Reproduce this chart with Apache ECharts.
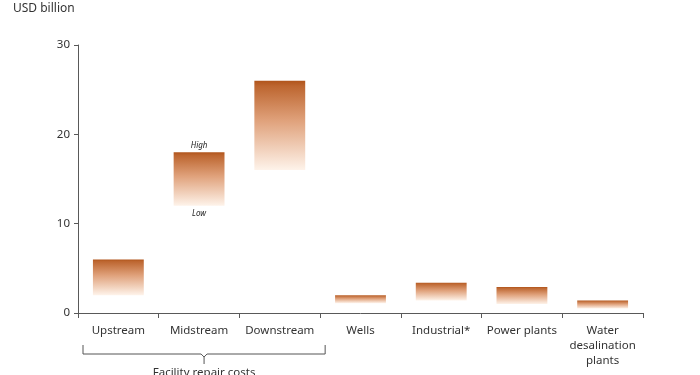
<!DOCTYPE html>
<html><head><meta charset="utf-8">
<script src="https://cdn.jsdelivr.net/npm/echarts@6/dist/echarts.min.js"></script>
<style>html,body{margin:0;padding:0;background:#fff}#c{width:700px;height:375px}</style>
</head><body><div id="c"></div>
<script>
const categories = ['Upstream','Midstream','Downstream','Wells','Industrial*','Power plants','Water\ndesalination\nplants'];
const lowValues  = [2, 12, 16, 1.1, 1.4, 1.0, 0.5];
const highValues = [6, 18, 26, 2.0, 3.4, 2.9, 1.4];
const yTicks = [0, 10, 20, 30];
const rangeLabels = {1: {high: 'High', low: 'Low'}};
const braceLabel = 'Facility repair costs';
const braceFrom = 0, braceTo = 2;

const FONT = 'Noto Sans';
const chart = echarts.init(document.getElementById('c'));
const grad = new echarts.graphic.LinearGradient(0,0,0,1,[
  {offset:0, color:'#b0541b'},
  {offset:0.06, color:'#bd6630'},
  {offset:0.45, color:'#e0a27c'},
  {offset:1, color:'#fef3ea'}
]);
chart.setOption({
  animation:false,
  grid:{left:78, right:57, top:45, bottom:62},
  xAxis:{type:'category', data:categories,
    axisLine:{lineStyle:{color:'#595959', width:1}},
    axisTick:{show:true, length:5, lineStyle:{color:'#595959'}},
    axisLabel:{color:'#333', fontFamily:FONT, fontSize:11.5, margin:10, lineHeight:15, interval:0}},
  yAxis:{type:'value', min:yTicks[0], max:yTicks[yTicks.length-1], interval:10,
    splitLine:{show:false},
    axisLine:{show:true, lineStyle:{color:'#595959'}},
    axisTick:{show:true, length:4, lineStyle:{color:'#595959'}},
    axisLabel:{color:'#333', fontFamily:FONT, fontSize:11.5, margin:8}},
  series:[
    {type:'bar', stack:'r', barWidth:'63%', silent:true,
     itemStyle:{color:'rgba(0,0,0,0)'},
     data: lowValues.map((v,i)=> rangeLabels[i] ? {value:v, label:{show:true, position:'insideTop', distance:4, formatter:rangeLabels[i].low, fontStyle:'italic', fontSize:8, color:'#222', fontFamily:FONT}} : v)},
    {type:'bar', stack:'r', barWidth:'63%',
     itemStyle:{color:grad},
     data: highValues.map((v,i)=> { const d = +(v-lowValues[i]).toFixed(3); return rangeLabels[i] ? {value:d, label:{show:true, position:'top', distance:2, formatter:rangeLabels[i].high, fontStyle:'italic', fontSize:8, color:'#222', fontFamily:FONT}} : d; })}
  ]
});
// brace under first three categories
const axisY = chart.convertToPixel({yAxisIndex:0}, 0);
const c0 = chart.convertToPixel({xAxisIndex:0}, braceFrom);
const c2 = chart.convertToPixel({xAxisIndex:0}, braceTo);
const half = (c2 - c0) / (braceTo - braceFrom) / 2;
const x1 = c0 - half + 5, x2 = c2 + half + 5, xm = (x1 + x2) / 2;
const yb = axisY + 41, y0 = axisY + 32, yt = axisY + 51;
chart.setOption({graphic:[
  {type:'polyline', shape:{points:[[x1,y0],[x1,yb],[xm-3,yb],[xm,yb+3],[xm,yt]]}, style:{stroke:'#555', lineWidth:1, fill:null}},
  {type:'polyline', shape:{points:[[x2,y0],[x2,yb],[xm+3,yb],[xm,yb+3]]}, style:{stroke:'#555', lineWidth:1, fill:null}},
  {type:'text', x:xm, y:yt+3, style:{text:braceLabel, fontFamily:FONT, fontSize:11.5, fill:'#333', align:'center', verticalAlign:'top'}},
  {type:'text', x:13, y:3, style:{text:'USD billion', fontFamily:FONT, fontSize:12, fill:'#333'}}
]});
</script></body></html>
